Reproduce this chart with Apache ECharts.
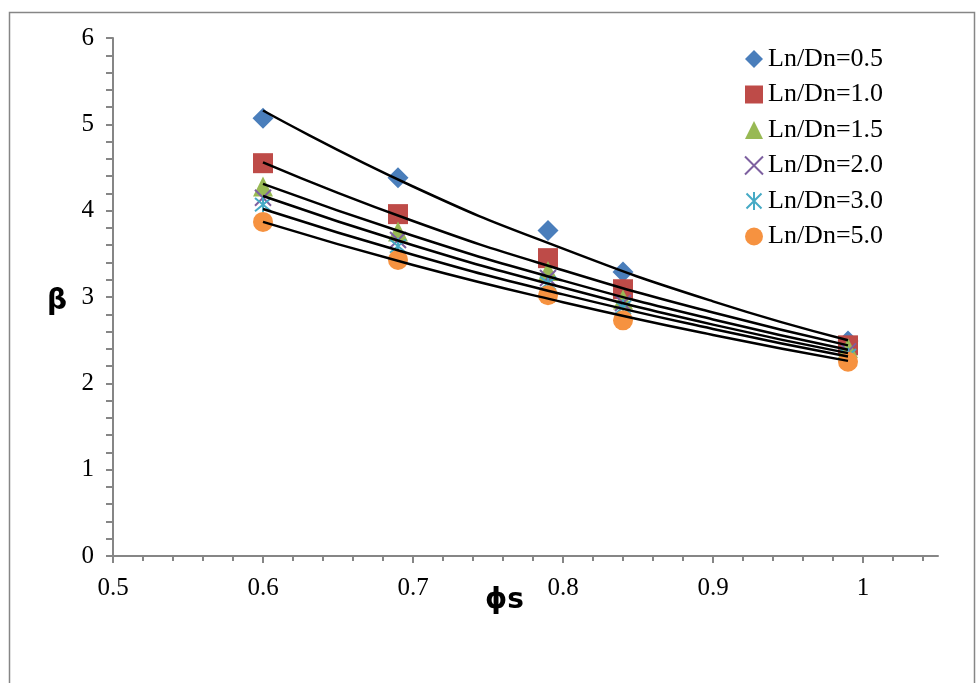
<!DOCTYPE html>
<html>
<head>
<meta charset="utf-8">
<script src="https://cdn.jsdelivr.net/npm/echarts@6/dist/echarts.min.js"></script>
<style>
  html, body { margin: 0; padding: 0; background: #fff; }
  #chart { width: 980px; height: 683px; }
</style>
</head>
<body>
<div id="chart"></div>
<script>
// Solid volume fraction on the x axis
const phiS = [0.6, 0.69, 0.79, 0.84, 0.99];

// Measured beta for each Ln/Dn ratio
const beta05 = [5.07, 4.38, 3.77, 3.29, 2.49];
const beta10 = [4.55, 3.96, 3.45, 3.09, 2.44];
const beta15 = [4.28, 3.76, 3.30, 2.97, 2.41];
const beta20 = [4.15, 3.66, 3.22, 2.93, 2.37];
const beta30 = [4.07, 3.59, 3.16, 2.88, 2.32];
const beta50 = [3.87, 3.43, 3.02, 2.73, 2.25];

// Fitted trend curves, sampled along phiS
const trendX = [0.6, 0.7, 0.8, 0.9, 0.99];
const trend05 = [5.16, 4.28, 3.56, 2.95, 2.50];
const trend10 = [4.56, 3.88, 3.31, 2.82, 2.44];
const trend15 = [4.31, 3.71, 3.19, 2.74, 2.39];
const trend20 = [4.17, 3.60, 3.11, 2.68, 2.35];
const trend30 = [4.02, 3.49, 3.03, 2.63, 2.31];
const trend50 = [3.87, 3.37, 2.94, 2.56, 2.26];

const seriesNames = ['Ln/Dn=0.5', 'Ln/Dn=1.0', 'Ln/Dn=1.5', 'Ln/Dn=2.0', 'Ln/Dn=3.0', 'Ln/Dn=5.0'];
const xTicks = [0.5, 0.6, 0.7, 0.8, 0.9, 1];
const yTicks = [0, 1, 2, 3, 4, 5, 6];

const measured = [beta05, beta10, beta15, beta20, beta30, beta50];
const trends = [trend05, trend10, trend15, trend20, trend30, trend50];

const pair = (xs, ys) => xs.map((x, i) => [x, ys[i]]);

const crossPath = 'path://M0,0L10,10M10,0L0,10';
const starPath = 'path://M0,0L10,10M10,0L0,10M5,-1L5,11';

const markerStyles = [
  { symbol: 'diamond', symbolSize: 21, itemStyle: { color: '#4A7EBB', opacity: 1 } },
  { symbol: 'rect', symbolSize: 20, itemStyle: { color: '#BE4B48', opacity: 1 } },
  { symbol: 'triangle', symbolSize: 20, itemStyle: { color: '#98B954', opacity: 1 } },
  { symbol: crossPath, symbolSize: 16, itemStyle: { color: 'rgba(0,0,0,0)', borderColor: '#7D60A0', borderWidth: 2, opacity: 1 } },
  { symbol: starPath, symbolSize: 16, itemStyle: { color: 'rgba(0,0,0,0)', borderColor: '#46AAC5', borderWidth: 2, opacity: 1 } },
  { symbol: 'circle', symbolSize: 20, itemStyle: { color: '#F69240', opacity: 1 } }
];

const serif = '"Liberation Serif", "Times New Roman", serif';
const axisGray = '#868686';

const series = [];
measured.forEach((vals, i) => {
  series.push(Object.assign({
    name: seriesNames[i],
    type: 'scatter',
    data: pair(phiS, vals),
    z: 2
  }, markerStyles[i]));
});
trends.forEach((vals) => {
  series.push({
    type: 'line',
    data: pair(trendX, vals),
    smooth: true,
    showSymbol: false,
    silent: true,
    lineStyle: { color: '#000', width: 2.5 },
    z: 5
  });
});

const chart = echarts.init(document.getElementById('chart'));
chart.setOption({
  animation: false,
  backgroundColor: '#fff',
  grid: { left: 113, right: 42, top: 38, bottom: 127 },
  graphic: [
    { type: 'rect', left: 7, top: 10, shape: { width: 965, height: 700 },
      style: { fill: 'none', stroke: axisGray, lineWidth: 1.5 }, z: -1 },
    { type: 'text', left: 47, top: 288,
      style: { text: 'β', font: 'bold 28px "DejaVu Sans", sans-serif', fill: '#000' } },
    { type: 'text', left: 485, top: 587,
      style: { text: 'ϕs', font: 'bold 28px "DejaVu Sans", sans-serif', fill: '#000' } }
  ],
  legend: {
    orient: 'vertical',
    left: 739,
    top: 41,
    itemWidth: 18,
    itemHeight: 18,
    itemGap: 9.5,
    data: seriesNames,
    textStyle: { fontFamily: serif, fontSize: 26, color: '#000' }
  },
  xAxis: {
    type: 'value',
    min: 0.5,
    max: 1.05,
    interval: 0.1,
    axisLine: { show: true, lineStyle: { color: axisGray, width: 2 } },
    axisTick: { show: true, inside: false, length: 7, customValues: xTicks, lineStyle: { color: axisGray, width: 2 } },
    minorTick: { show: true, splitNumber: 5, length: 5, lineStyle: { color: axisGray, width: 2 } },
    splitLine: { show: false },
    axisLabel: {
      margin: 20,
      fontFamily: serif,
      fontSize: 25,
      color: '#000',
      customValues: xTicks,
      formatter: (v) => String(+v.toFixed(1))
    }
  },
  yAxis: {
    type: 'value',
    min: 0,
    max: 6,
    interval: 1,
    axisLine: { show: true, lineStyle: { color: axisGray, width: 2 } },
    axisTick: { show: true, inside: false, length: 7, lineStyle: { color: axisGray, width: 2 } },
    minorTick: { show: true, splitNumber: 5, length: 7, lineStyle: { color: axisGray, width: 2 } },
    splitLine: { show: false },
    axisLabel: {
      margin: 19,
      fontFamily: serif,
      fontSize: 25,
      color: '#000',
      formatter: (v) => (yTicks.includes(v) ? String(v) : '')
    }
  },
  series: series
});
</script>
</body>
</html>
